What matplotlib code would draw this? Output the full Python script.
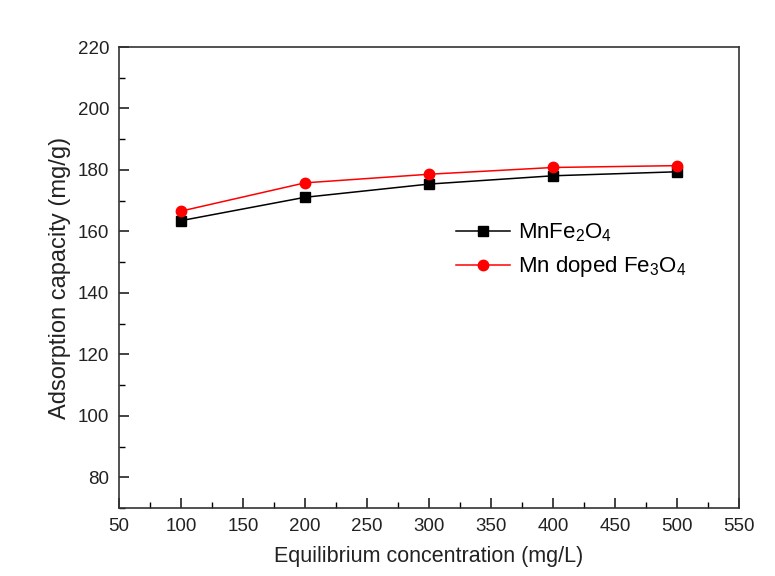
import matplotlib
matplotlib.use("Agg")
import matplotlib.pyplot as plt
from matplotlib.ticker import MultipleLocator

plt.rcParams['font.family'] = ['Liberation Sans', 'DejaVu Sans']
plt.rcParams['mathtext.fontset'] = 'custom'
plt.rcParams['mathtext.rm'] = 'Liberation Sans'
plt.rcParams['mathtext.it'] = 'Liberation Sans'

concentration = [100, 200, 300, 400, 500]
mnfe2o4 = [163.5, 171.1, 175.4, 178.1, 179.4]
mn_doped_fe3o4 = [166.6, 175.8, 178.6, 180.8, 181.4]
series_labels = ['MnFe$_2$O$_4$', 'Mn doped Fe$_3$O$_4$']

fig = plt.figure(figsize=(7.75, 5.76), dpi=100)
ax = fig.add_axes([0.1535, 0.118, 0.8, 0.8004])

ax.plot(concentration, mnfe2o4, color='black', marker='s', markersize=6.5, lw=1.1,
        label=series_labels[0])
ax.plot(concentration, mn_doped_fe3o4, color='red', marker='o', markersize=7.5, lw=1.1,
        label=series_labels[1])

ax.set_xlim(50, 550)
ax.set_ylim(70, 220)
ax.xaxis.set_major_locator(MultipleLocator(50))
ax.xaxis.set_minor_locator(MultipleLocator(25))
ax.set_yticks(range(80, 221, 20))
ax.yaxis.set_minor_locator(MultipleLocator(10))
ax.tick_params(which='major', direction='in', length=7, width=1.2, labelsize=13.5, colors='#222222')
ax.tick_params(which='minor', direction='in', length=4, width=1.0)
ax.tick_params(axis='both', pad=7)
for s in ax.spines.values():
    s.set_linewidth(1.2)
    s.set_color('#333333')

ax.set_xlabel('Equilibrium concentration (mg/L)', fontsize=15.5, labelpad=8, color='#222222')
ax.set_ylabel('Adsorption capacity (mg/g)', fontsize=17, labelpad=5, color='#222222')

ax.legend(loc='upper left', bbox_to_anchor=(0.53, 0.64), frameon=False,
          fontsize=16, handlelength=2.4, handletextpad=0.35, labelspacing=0.45,
          borderaxespad=0)

fig.savefig('out.png', dpi=100)
